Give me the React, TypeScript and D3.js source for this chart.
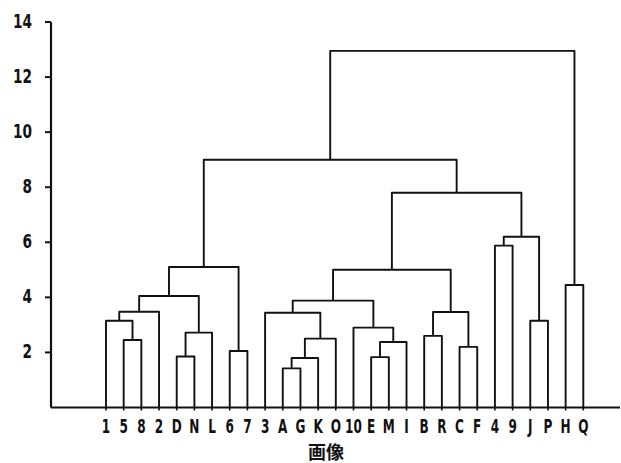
import React from "react";
import * as d3 from "d3";

// leaf order along the x axis
const leaves = ["1", "5", "8", "2", "D", "N", "L", "6", "7", "3", "A", "G", "K", "O", "10", "E", "M", "I", "B", "R", "C", "F", "4", "9", "J", "P", "H", "Q"];

// merges: [left, right, height]; "cN" refers to the N-th merge
const merges: [string, string, number][] = [
  ["5", "8", 2.45],
  ["1", "c0", 3.15],
  ["c1", "2", 3.48],
  ["D", "N", 1.85],
  ["c3", "L", 2.72],
  ["c2", "c4", 4.05],
  ["6", "7", 2.05],
  ["c5", "c6", 5.1],
  ["A", "G", 1.42],
  ["c8", "K", 1.8],
  ["c9", "O", 2.5],
  ["3", "c10", 3.44],
  ["E", "M", 1.83],
  ["c12", "I", 2.38],
  ["10", "c13", 2.9],
  ["c11", "c14", 3.88],
  ["B", "R", 2.6],
  ["C", "F", 2.2],
  ["c16", "c17", 3.47],
  ["c15", "c18", 5.0],
  ["4", "9", 5.88],
  ["J", "P", 3.15],
  ["c20", "c21", 6.2],
  ["c19", "c22", 7.8],
  ["c7", "c23", 9.0],
  ["H", "Q", 4.45],
  ["c24", "c25", 12.95],
];

const yTicks = [2, 4, 6, 8, 10, 12, 14];
const xTitle = "画像";

const W = 621;
const H = 463;
const axisLeft = 51;
const axisRight = 620;
const font = "'DejaVu Sans', sans-serif";

export default function App() {
  const x = d3.scalePoint<string>().domain(leaves).range([106, 583.3]);
  const y = d3.scaleLinear().domain([0, 14]).range([407.5, 22]);

  // positions of leaves and clusters
  const pos: Record<string, { x: number; h: number }> = {};
  leaves.forEach((l) => (pos[l] = { x: x(l) as number, h: 0 }));
  const links: string[] = [];
  merges.forEach(([a, b, h], i) => {
    const pa = pos[a];
    const pb = pos[b];
    const p = d3.path();
    p.moveTo(pa.x, y(pa.h));
    p.lineTo(pa.x, y(h));
    p.lineTo(pb.x, y(h));
    p.lineTo(pb.x, y(pb.h));
    links.push(p.toString());
    pos["c" + i] = { x: (pa.x + pb.x) / 2, h };
  });

  return (
    <svg width={W} height={H} style={{ position: "absolute", left: 0, top: 0, background: "#fff" }}>
      <g fill="none" stroke="#111" strokeWidth={1.9} strokeLinejoin="round">
        {links.map((d, i) => (
          <path key={i} d={d} />
        ))}
      </g>
      {/* y axis */}
      <line x1={axisLeft} x2={axisLeft} y1={y(14)} y2={y(0)} stroke="#111" strokeWidth={2.2} />
      {yTicks.map((t) => (
        <g key={t}>
          <line x1={axisLeft - 6} x2={axisLeft} y1={y(t)} y2={y(t)} stroke="#111" strokeWidth={2} />
          <text transform={`translate(32,${y(t) + 6}) scale(0.72,1)`} textAnchor="end" fontFamily={font} fontWeight="bold" fontSize={19} fill="#111">
            {t}
          </text>
        </g>
      ))}
      {/* x axis */}
      <line x1={axisLeft} x2={axisRight} y1={y(0)} y2={y(0)} stroke="#111" strokeWidth={2.2} />
      {leaves.map((l) => (
        <g key={l}>
          <line x1={x(l)} x2={x(l)} y1={y(0)} y2={y(0) + 3} stroke="#111" strokeWidth={1.6} />
          <text transform={`translate(${x(l)},433) scale(0.62,1)`} textAnchor="middle" fontFamily={font} fontWeight="bold" fontSize={19.5} fill="#111">
            {l}
          </text>
        </g>
      ))}
      <text x={326} y={459} textAnchor="middle" fontFamily="'Noto Sans CJK JP', sans-serif" fontWeight="bold" fontSize={18} fill="#111">
        {xTitle}
      </text>
    </svg>
  );
}
